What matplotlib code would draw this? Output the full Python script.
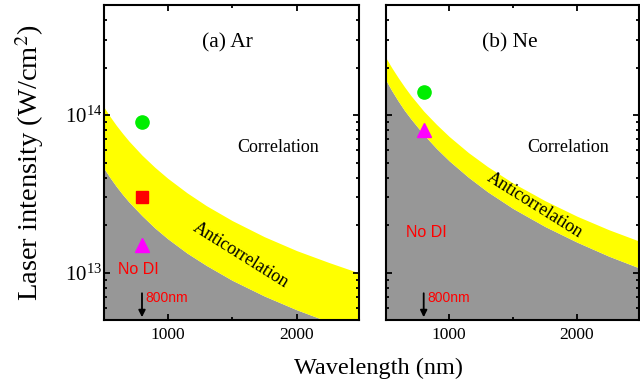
import numpy as np
import matplotlib.pyplot as plt
from matplotlib.ticker import LogLocator, FixedLocator, NullFormatter

plt.rcParams['font.family'] = ['Liberation Serif', 'DejaVu Serif']
plt.rcParams['mathtext.fontset'] = 'stix'

# boundaries (W/cm^2)
wavelength = [500, 550, 600, 650, 700, 800, 900, 1000, 1150, 1300, 1500, 1750, 2000, 2250, 2500]
ar_upper = [1.14e14, 9.84e13, 8.62e13, 7.64e13, 6.82e13, 5.57e13, 4.66e13, 3.97e13,
            3.21e13, 2.66e13, 2.14e13, 1.69e13, 1.38e13, 1.16e13, 9.86e12]
ar_lower = [4.65e13, 4.03e13, 3.53e13, 3.13e13, 2.80e13, 2.30e13, 1.92e13, 1.64e13,
            1.33e13, 1.11e13, 8.94e12, 7.10e12, 5.81e12, 4.87e12, 4.16e12]
ne_upper = [2.34e14, 2.00e14, 1.73e14, 1.51e14, 1.33e14, 1.06e14, 8.73e13, 7.31e13,
            5.78e13, 4.71e13, 3.70e13, 2.86e13, 2.28e13, 1.87e13, 1.57e13]
ne_lower = [1.69e14, 1.43e14, 1.23e14, 1.07e14, 9.46e13, 7.52e13, 6.14e13, 5.12e13,
            4.03e13, 3.26e13, 2.55e13, 1.96e13, 1.56e13, 1.27e13, 1.06e13]

# measured points at 800 nm
lam_800 = 800
ar_circle, ar_square, ar_triangle = 9e13, 3e13, 1.5e13
ne_circle, ne_triangle = 1.4e14, 8e13

titles = ['(a) Ar', '(b) Ne']

fig = plt.figure(figsize=(6.4, 3.84), dpi=100)
ax1 = fig.add_axes([104/640, 64/384, 255/640, 315/384])
ax2 = fig.add_axes([386/640, 64/384, 253/640, 315/384])

grey = '#979797'
yellow = '#ffff00'

for ax, up, lo in [(ax1, ar_upper, ar_lower), (ax2, ne_upper, ne_lower)]:
    ax.set_yscale('log')
    ax.fill_between(wavelength, 1e12, lo, color=grey, lw=0)
    ax.fill_between(wavelength, lo, up, color=yellow, lw=0)
    ax.set_xlim(505, 2485)
    ax.set_ylim(5e12, 5e14)
    ax.set_xticks([1000, 2000])
    ax.xaxis.set_minor_locator(FixedLocator([1500]))
    ax.yaxis.set_major_locator(LogLocator(base=10))
    ax.yaxis.set_minor_locator(LogLocator(base=10, subs=np.arange(2, 10)))
    ax.yaxis.set_minor_formatter(NullFormatter())
    ax.tick_params(which='both', direction='in', top=True, right=True, width=1.3)
    ax.tick_params(which='major', length=4.5)
    ax.tick_params(which='minor', length=2.5)
    ax.tick_params(axis='x', labelsize=12.5, pad=5)
    ax.tick_params(axis='y', labelsize=15, pad=1.5)
    for s in ax.spines.values():
        s.set_linewidth(1.5)
    ax.annotate('', xy=(lam_800, 5e12), xytext=(lam_800, 7.7e12),
                arrowprops=dict(arrowstyle='-|>', color='black', lw=1.3, mutation_scale=10))
    ax.text(830, 6.9e12, '800nm', color='red', fontsize=10,
            family='Liberation Sans', ha='left', va='center')

ax2.tick_params(labelleft=False)

# panel (a)
ax1.plot(lam_800, ar_circle, 'o', color='#00ee00', ms=9.5)
ax1.plot(lam_800, ar_square, 's', color='red', ms=8.5)
ax1.plot(lam_800, ar_triangle, '^', color='magenta', ms=10.5)
ax1.text(0.486, 0.879, titles[0], transform=ax1.transAxes, fontsize=15.5, ha='center', va='center')
ax1.text(0.683, 0.549, 'Correlation', transform=ax1.transAxes, fontsize=13, ha='center', va='center')
ax1.text(0.536, 0.206, 'Anticorrelation', transform=ax1.transAxes, fontsize=13,
         ha='center', va='center', rotation=-32, rotation_mode='anchor')
ax1.text(775, 1.05e13, 'No DI', color='red', fontsize=11.5, family='Liberation Sans',
         ha='center', va='center')

# panel (b)
ax2.plot(lam_800, ne_circle, 'o', color='#00ee00', ms=9.5)
ax2.plot(lam_800, ne_triangle, '^', color='magenta', ms=10.5)
ax2.text(0.49, 0.879, titles[1], transform=ax2.transAxes, fontsize=15.5, ha='center', va='center')
ax2.text(0.72, 0.549, 'Correlation', transform=ax2.transAxes, fontsize=13, ha='center', va='center')
ax2.text(0.588, 0.365, 'Anticorrelation', transform=ax2.transAxes, fontsize=13,
         ha='center', va='center', rotation=-32, rotation_mode='anchor')
ax2.text(824, 1.8e13, 'No DI', color='red', fontsize=11.5, family='Liberation Sans',
         ha='center', va='center')

fig.text(30/640, 1 - 163/384, 'Laser intensity (W/cm$^2$)', rotation=90,
         fontsize=20.5, ha='center', va='center')
fig.text(378/640, 1 - 368/384, 'Wavelength (nm)', fontsize=17.5, ha='center', va='center')

fig.savefig('out.png', dpi=100)
